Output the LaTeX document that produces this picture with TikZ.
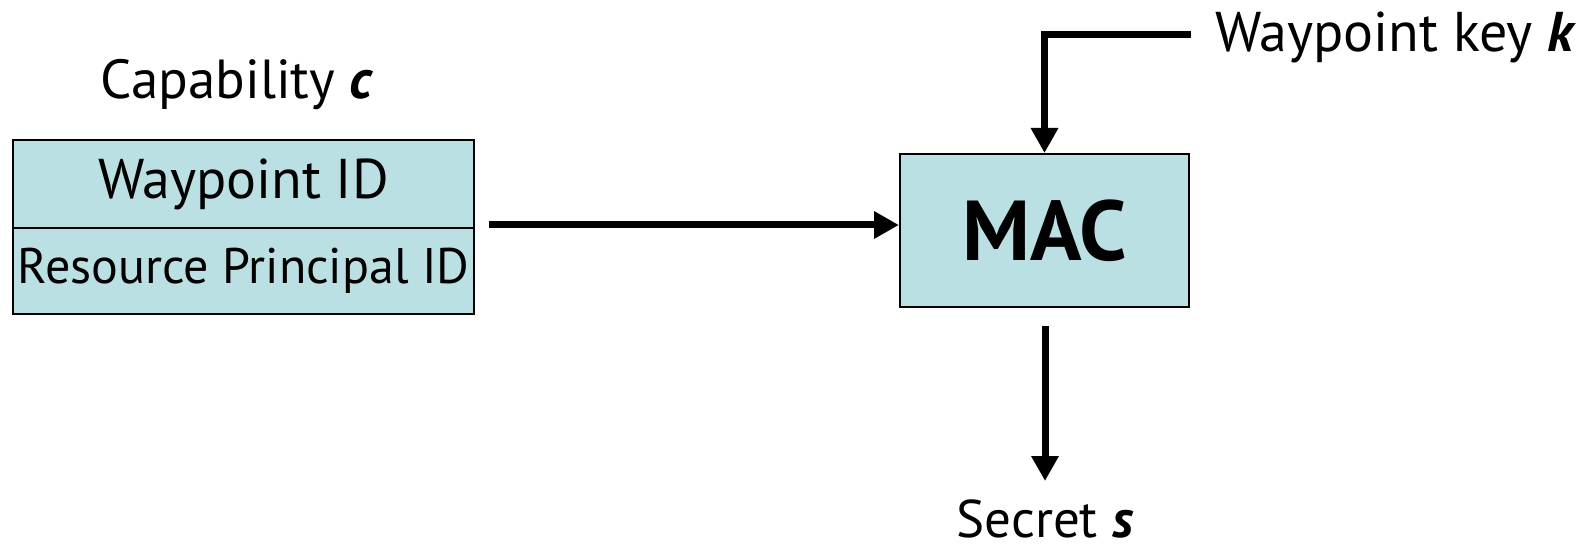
\documentclass[tikz,border=0pt]{standalone}
\usepackage{fontspec}
\setmainfont{PT Sans}
\usetikzlibrary{arrows.meta}
\definecolor{boxfill}{RGB}{186,224,227}
\tikzset{
  cell/.style={draw=black, line width=2pt, fill=boxfill, inner sep=0pt, anchor=north west},
  arr/.style={line width=7pt, -{Triangle[width=26pt,length=25pt]}},
  lbl/.style={inner sep=0pt},
}
\begin{document}
\begin{tikzpicture}[x=1pt,y=-1pt]
\useasboundingbox (0,0) rectangle (1587,545);
\node[lbl, anchor=base, font=\fontsize{55}{60}\selectfont] (cap) at (237.5,99) {Capability \textbf{\textit{c}}};
\node[cell, minimum width=461pt, minimum height=88pt, font=\fontsize{56}{60}\selectfont] (wid) at (12,139) {Waypoint ID};
\node[cell, minimum width=461pt, minimum height=86pt, font=\fontsize{50}{56}\selectfont] (rpid) at (12,227) {Resource Principal ID};
\node[cell, minimum width=289pt, minimum height=153pt, font=\fontsize{85}{90}\bfseries\selectfont, anchor=center] (mac) at (1044.5,230.5) {MAC};
\node[lbl, anchor=base west, font=\fontsize{56}{60}\selectfont] (key) at (1215,52) {Waypoint key \textbf{\textit{k}}};
\node[lbl, anchor=base, font=\fontsize{53}{60}\selectfont] (sec) at (1045,537) {Secret \textbf{\textit{s}}};
\coordinate (cin) at (489,225);
\coordinate (kin) at (1191,35);
\coordinate (sout) at (1045,326);
\coordinate (send) at (1045,481);
\draw[arr] (cin) -- (cin -| mac.west);
\draw[arr, line join=miter] (kin) -| (mac.north);
\draw[arr] (sout) -- (send);
\end{tikzpicture}
\end{document}
